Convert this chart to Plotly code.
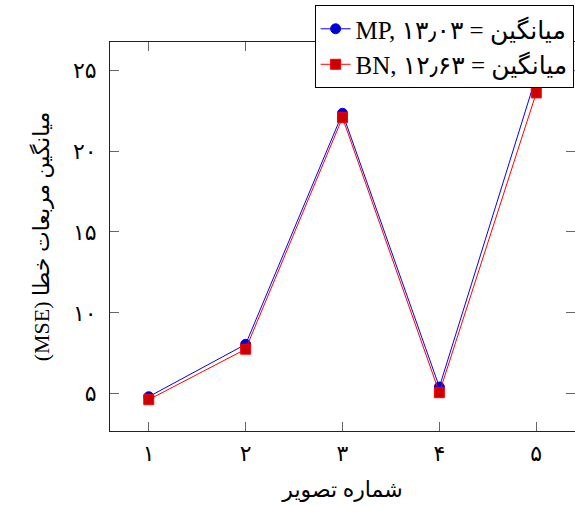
import plotly.graph_objects as go

x_vals = [1, 2, 3, 4, 5]
x_labels = ["۱", "۲", "۳", "۴", "۵"]
y_tickvals = [5, 10, 15, 20, 25]
y_ticklabels = ["۵", "۱۰", "۱۵", "۲۰", "۲۵"]
mp_values = [4.81, 8.05, 22.34, 5.41, 24.64]
bn_values = [4.63, 7.75, 22.07, 5.06, 23.60]
mp_name = "MP, ۱۳٫۰۳ = میانگین"
bn_name = "BN, ۱۲٫۶۳ = میانگین"
x_title = "شماره تصویر"
y_title = "(MSE) میانگین مربعات خطا"

FONT = "Liberation Serif, DejaVu Sans, serif"

fig = go.Figure()
fig.add_trace(go.Scatter(
    x=x_vals, y=mp_values, name=mp_name, mode="lines+markers",
    line=dict(color="#0000ff", width=1),
    marker=dict(symbol="circle", size=10, color="#0000cc", line=dict(color="#0000ff", width=1)),
))
fig.add_trace(go.Scatter(
    x=x_vals, y=bn_values, name=bn_name, mode="lines+markers",
    line=dict(color="#ff0000", width=1),
    marker=dict(symbol="square", size=10, color="#cc0000", line=dict(color="#ff0000", width=1)),
))

axis_common = dict(
    showline=True, linecolor="#222222", linewidth=1, mirror="ticks",
    ticks="inside", ticklen=9, tickcolor="#666666", tickwidth=1,
    showgrid=False, zeroline=False,
    tickfont=dict(family=FONT, size=22, color="black"),
)

fig.update_layout(
    width=575, height=506,
    margin=dict(l=110, r=0, t=42, b=75),
    paper_bgcolor="white", plot_bgcolor="white",
    font=dict(family=FONT, size=22, color="black"),
    xaxis=dict(range=[0.6, 5.4], tickvals=x_vals, ticktext=x_labels, ticklabelstandoff=3,
               title=dict(text=x_title, font=dict(family=FONT, size=22), standoff=16),
               **axis_common),
    yaxis=dict(range=[2.69, 26.75], tickvals=y_tickvals, ticktext=y_ticklabels, ticklabelstandoff=8,
               title=dict(text=y_title, font=dict(family=FONT, size=22), standoff=17),
               **axis_common),
    legend=dict(x=0.997, y=1.095, xanchor="right", yanchor="top",
                bgcolor="white", bordercolor="black", borderwidth=1,
                font=dict(family=FONT, size=25), tracegroupgap=0),
    showlegend=True,
)

fig.write_html("out.html", config={"displayModeBar": False},
               post_script="document.body.style.margin='0';")
